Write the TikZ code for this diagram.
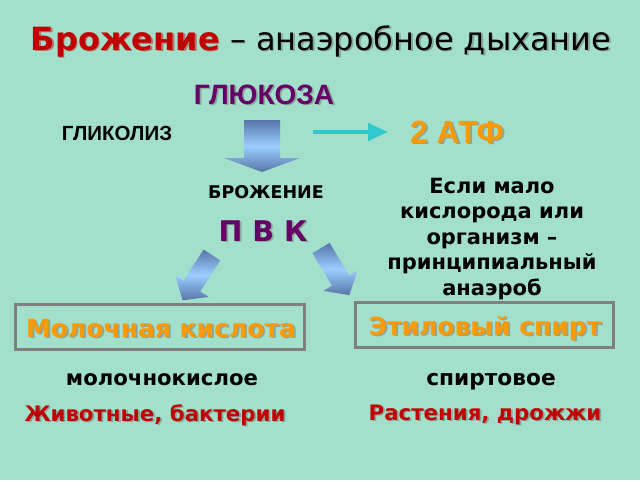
\documentclass[tikz,border=0pt]{standalone}
\usepackage{fontspec}
\setmainfont{DejaVu Sans}
\newfontfamily\arialfont{Liberation Sans}
\usetikzlibrary{positioning,arrows.meta}

\definecolor{bgmint}{RGB}{163,224,204}
\definecolor{titlered}{RGB}{192,0,0}
\definecolor{glucpurple}{RGB}{102,0,102}
\definecolor{atforange}{RGB}{255,153,0}
\definecolor{arrowcyan}{RGB}{51,200,204}
\definecolor{arrowdark}{RGB}{88,118,168}
\definecolor{arrowlight}{RGB}{155,206,255}

% text with a soft drop shadow: position, style, name, text
\newcommand\shnode[4]{%
  \node[#2, text=black!60, opacity=.45] at ([shift={(1.8,1.8)}]#1) {#4};
  \node[#2] (#3) at (#1) {#4};}

\tikzset{
  every node/.style = {inner sep=0pt, outer sep=0pt},
  pics/fatarrow/.style n args = {4}{code = {
    \shade[top color=arrowdark, bottom color=arrowdark, middle color=arrowlight]
      (-#2,0) -- (#2,0) -- (#2,#1-#4) -- (#3,#1-#4) -- (0,#1)
      -- (-#3,#1-#4) -- (-#2,#1-#4) -- cycle;
  }},
  titletext/.style = {anchor=base, font=\fontsize{32}{36}\selectfont},
  capslabel/.style = {anchor=base, font=\arialfont\bfseries\fontsize{#1}{#1}\selectfont},
  plainlabel/.style = {anchor=base, font=\bfseries\fontsize{#1}{#1}\selectfont},
  note/.style = {anchor=north, align=center, font=\bfseries\fontsize{21}{25.5}\selectfont},
  productbox/.style = {draw=gray, line width=3pt, minimum height=45},
  producttext/.style = {anchor=base, text=atforange, font=\bfseries\fontsize{25}{25}\selectfont},
  organism/.style = {anchor=base, text=titlered, font=\bfseries\fontsize{21.3}{21}\selectfont},
}

\begin{document}
\begin{tikzpicture}[x=1pt, y=-1pt]
    \fill[bgmint] (0,0) rectangle (640,480);

    % title
    \shnode{321,50}{titletext}{title}{{\bfseries\color{titlered}Брожение} -- анаэробное дыхание}

    % glucose and glycolysis
    \shnode{264,104}{capslabel=28, text=glucpurple}{glucose}{ГЛЮКОЗА}
    \node[capslabel=20.5] (glycolysis) at (117,140) {ГЛИКОЛИЗ};
    \shnode{457,143}{capslabel=32, text=atforange}{atf}{2 АТФ}

    \pic at (262,120) {fatarrow={52}{18}{38}{14}};
    \coordinate (branch) at (313,132);
    \draw[arrowcyan, line width=4.5pt, -{Triangle[length=20pt, width=17pt]}]
        (branch) -- ([xshift=-22]atf.west |- branch);

    % fermentation
    \node[plainlabel=17.5] (ferment) at (266,198) {БРОЖЕНИЕ};
    \shnode{263,241}{plainlabel=28.5, text=glucpurple}{pvk}{П В К}
    \node[note] (condition) at (492,178) {Если мало\\кислорода или\\организм --\\принципиальный\\анаэроб};

    \pic[rotate=-33] at (212,255) {fatarrow={54}{10}{20}{17}};
    \pic[rotate=31] at (321,248) {fatarrow={55}{10}{20}{17}};

    % products
    \node[productbox, minimum width=289] (lacticbox) at (160,327) {};
    \node[productbox, minimum width=258] (ethanolbox) at (484,325) {};
    \shnode{161,337}{producttext}{lactic}{Молочная кислота}
    \shnode{485,335}{producttext}{ethanol}{Этиловый спирт}

    \node[plainlabel=21.2] (lactictype) at (162,385) {молочнокислое};
    \node[plainlabel=21.7] (ethanoltype) at (491,385) {спиртовое};
    \shnode{155,421}{organism}{animals}{Животные, бактерии}
    \shnode{485,420}{organism}{plants}{Растения, дрожжи}
\end{tikzpicture}
\end{document}
